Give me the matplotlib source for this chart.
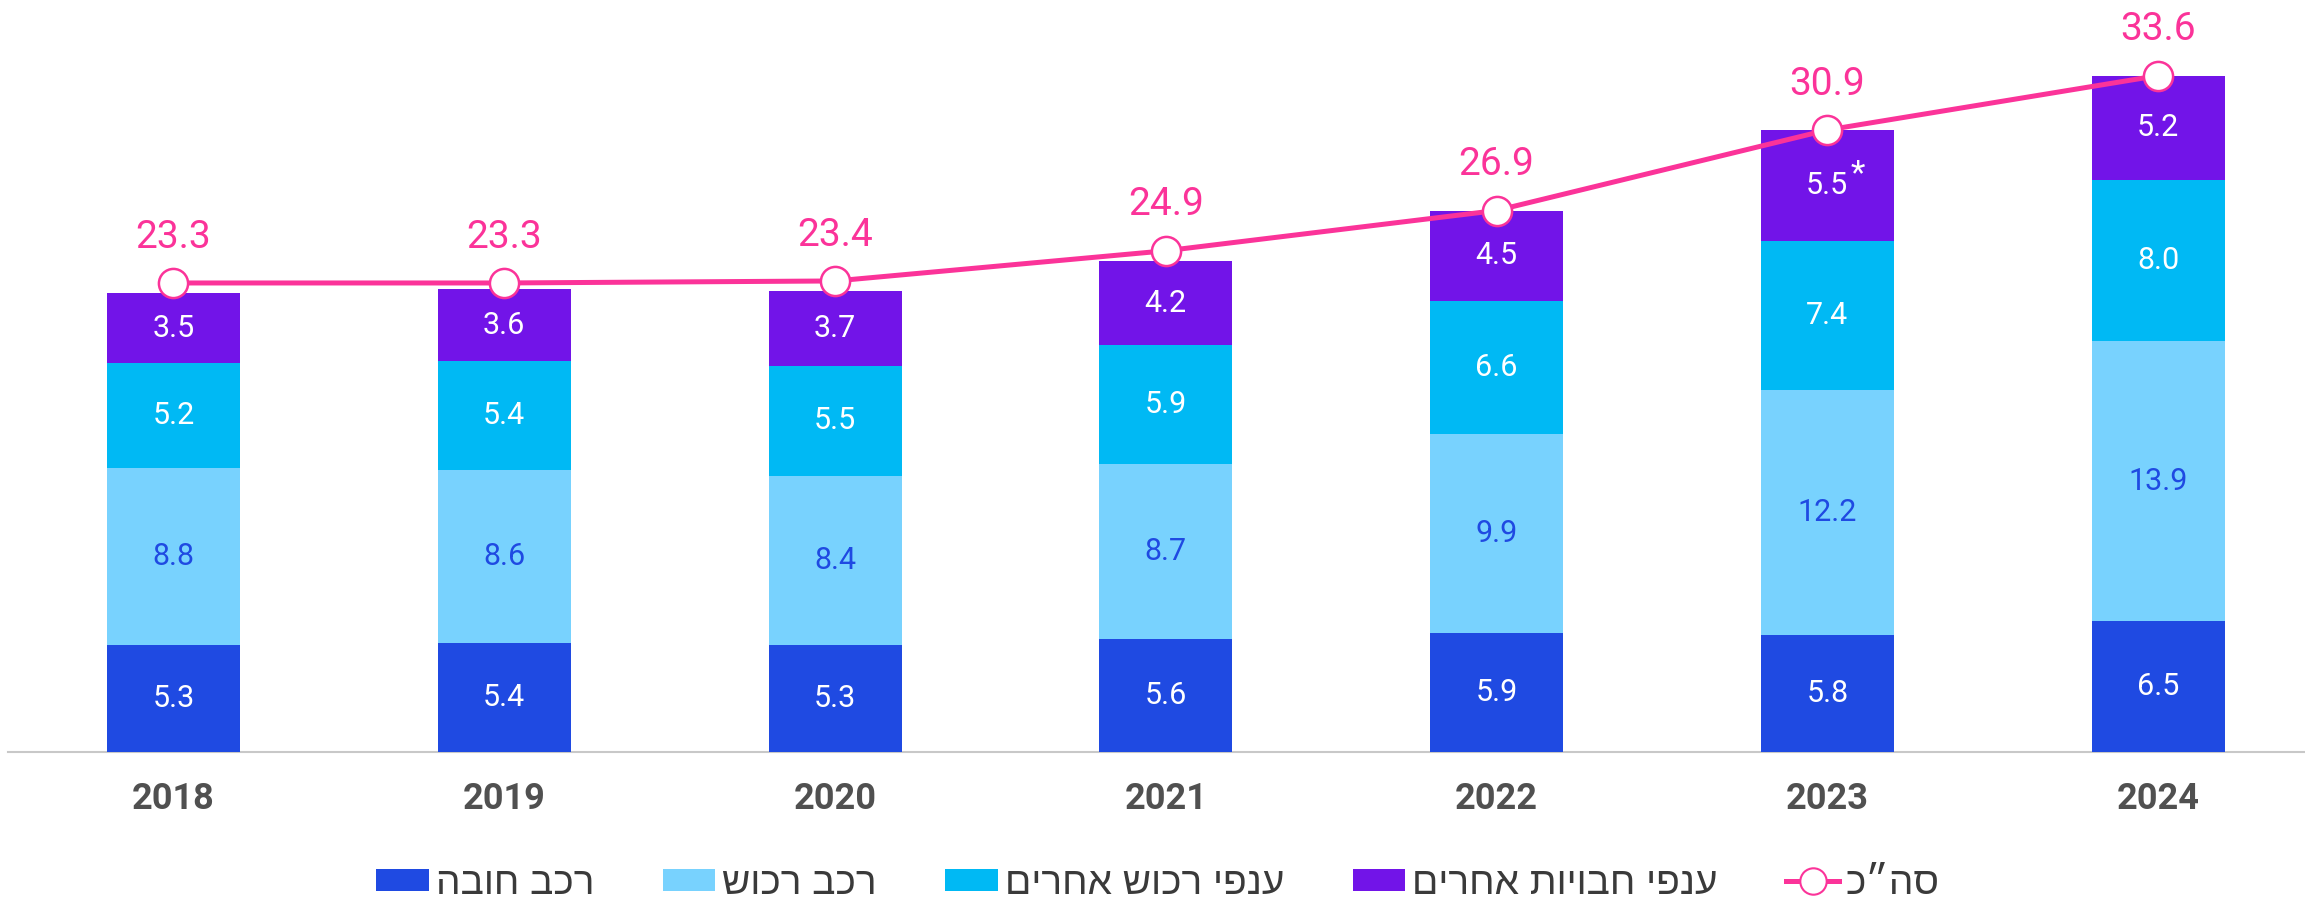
import matplotlib
matplotlib.use("Agg")
import matplotlib.pyplot as plt
from matplotlib.patches import Patch
from matplotlib.lines import Line2D
import numpy as np

years = ["2018", "2019", "2020", "2021", "2022", "2023", "2024"]
motor_mandatory = [5.3, 5.4, 5.3, 5.6, 5.9, 5.8, 6.5]
motor_property = [8.8, 8.6, 8.4, 8.7, 9.9, 12.2, 13.9]
other_property = [5.2, 5.4, 5.5, 5.9, 6.6, 7.4, 8.0]
other_liability = [3.5, 3.6, 3.7, 4.2, 4.5, 5.5, 5.2]
liability_notes = ["", "", "", "", "", "*", ""]
total = [23.3, 23.3, 23.4, 24.9, 26.9, 30.9, 33.6]

series_names = ["רכב חובה", "רכב רכוש", "ענפי רכוש אחרים", "ענפי חבויות אחרים"]
total_name = "סה״כ"

def rtl(s):
    return s[::-1]

c_dark = "#1F4AE2"
c_light = "#78D2FE"
c_cyan = "#00B9F4"
c_purple = "#7214E8"
c_pink = "#FB3399"

W, H = 2305, 902
fig = plt.figure(figsize=(W / 100, H / 100), dpi=100)
ax = fig.add_axes([8 / W, 1 - 752 / H, 1 - 8 / W, 752 / H])

x = np.arange(len(years))
bw = 0.402
series = [motor_mandatory, motor_property, other_property, other_liability]
colors = [c_dark, c_light, c_cyan, c_purple]
txt_colors = ["white", c_dark, "white", "white"]
num_font = ["Roboto", "DejaVu Sans"]

bottom = np.zeros(len(years))
for si, (vals, col, tc) in enumerate(zip(series, colors, txt_colors)):
    vals = np.array(vals)
    ax.bar(x, vals, bw, bottom=bottom, color=col, edgecolor="none", zorder=2)
    for i, v in enumerate(vals):
        cy = bottom[i] + v / 2
        ax.text(x[i], cy, f"{v:.1f}", ha="center", va="center", color=tc,
                fontsize=22, family=num_font, zorder=3)
        if si == 3 and liability_notes[i]:
            ax.annotate(liability_notes[i], (x[i], cy), xytext=(22, 8),
                        textcoords="offset points", ha="center", va="center",
                        color=tc, fontsize=24, family=num_font, zorder=3)
    bottom += vals

ax.plot(x, total, color=c_pink, lw=3.6, zorder=4, solid_capstyle="round")
ax.plot(x, total, ls="none", marker="o", ms=21, mfc="white", mec=c_pink,
        mew=1.8, zorder=5)
for i, t in enumerate(total):
    ax.annotate(f"{t:.1f}", (x[i], t), xytext=(0, 33), textcoords="offset points",
                ha="center", va="center", color=c_pink, fontsize=28,
                family=num_font, zorder=6)

ax.set_xlim(-0.5003, 6.444)
ax.set_ylim(0, 752 / 20.13)
ax.set_xticks(x)
ax.set_xticklabels(years, fontsize=26, fontweight="bold", color="#505050",
                   family=num_font)
ax.tick_params(axis="x", length=0, pad=21)
ax.set_yticks([])
for s in ["top", "right", "left"]:
    ax.spines[s].set_visible(False)
ax.spines["bottom"].set_color("#C8C8C8")
ax.spines["bottom"].set_linewidth(1.5)
ax.spines["bottom"].set_zorder(1)

handles = [Patch(facecolor=c, edgecolor="none") for c in colors]
handles.append(Line2D([0], [0], color=c_pink, lw=3.6, marker="o", ms=19,
                      mfc="white", mec=c_pink, mew=1.5))
labels = [rtl(n) for n in series_names] + [rtl(total_name)]
leg = fig.legend(handles, labels, loc="center", bbox_to_anchor=(1158 / W, 1 - 884 / H),
                 ncol=5, frameon=False, handlelength=1.34, handleheight=0.51,
                 handletextpad=0.18, columnspacing=1.77,
                 prop={"family": ["Liberation Sans", "DejaVu Sans"], "size": 28})
for t in leg.get_texts():
    t.set_color("#3A3A3A")

fig.savefig("out.png", dpi=100)
